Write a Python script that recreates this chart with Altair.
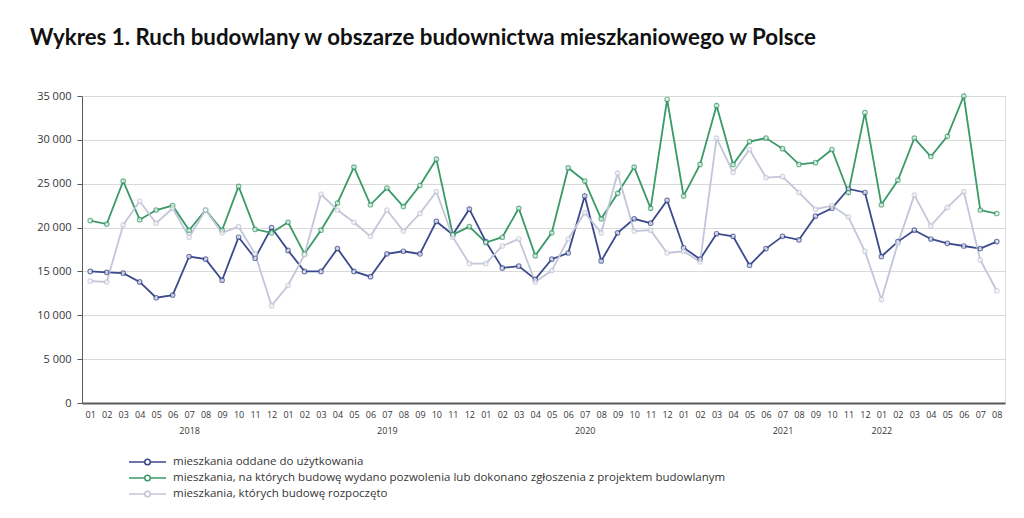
import altair as alt
import pandas as pd

# ---- data ----
months = ["01", "02", "03", "04", "05", "06", "07", "08", "09", "10", "11", "12"]
years = [2018, 2019, 2020, 2021, 2022]
# index of month where the year label is shown
year_label_pos = {6: "2018", 18: "2019", 30: "2020", 42: "2021", 48: "2022"}

series_names = [
    "mieszkania oddane do użytkowania",
    "mieszkania, na których budowę wydano pozwolenia lub dokonano zgłoszenia z projektem budowlanym",
    "mieszkania, których budowę rozpoczęto",
]
series_colors = ["#3b4a8c", "#3a9a68", "#c3c6d8"]

oddane = [
    15000, 14900, 14800, 13800, 12000, 12300, 16700, 16400, 14000, 18900, 16500, 20000,
    17400, 15000, 15000, 17600, 15000, 14400, 17000, 17300, 17000, 20700, 19200, 22100,
    18400, 15400, 15600, 14100, 16400, 17100, 23600, 16200, 19400, 21000, 20500, 23100,
    17700, 16400, 19300, 19000, 15700, 17600, 19000, 18600, 21300, 22200, 24400, 24000,
    16700, 18400, 19700, 18700, 18200, 17900, 17600, 18400,
]
pozwolenia = [
    20800, 20400, 25300, 20900, 22000, 22500, 19700, 22000, 19700, 24700, 19800, 19400,
    20600, 17000, 19700, 22800, 26900, 22600, 24500, 22400, 24800, 27800, 19200, 20100,
    18300, 18900, 22200, 16800, 19400, 26800, 25300, 21000, 23900, 26900, 22200, 34600,
    23600, 27200, 33900, 27200, 29800, 30200, 29000, 27200, 27400, 28900, 24000, 33100,
    22600, 25400, 30200, 28100, 30400, 35000, 22000, 21600,
]
rozpoczete = [
    13900, 13800, 20300, 23000, 20500, 22200, 18900, 22000, 19400, 20100, 17000, 11100,
    13400, 16900, 23800, 22000, 20600, 19000, 22000, 19600, 21600, 24100, 18900, 15900,
    15900, 17900, 18700, 13800, 15100, 18700, 21700, 19400, 26200, 19600, 19700, 17100,
    17300, 16100, 30200, 26300, 28900, 25700, 25800, 24000, 22100, 22500, 21200, 17300,
    11800, 18200, 23700, 20200, 22300, 24100, 16300, 12800,
]

n = len(oddane)
rows = []
for name, vals in zip(series_names, [oddane, pozwolenia, rozpoczete]):
    for i, v in enumerate(vals):
        rows.append({"idx": i, "seria": name, "wartosc": v})
df = pd.DataFrame(rows)

# x-axis labels: month, plus year on a second line where needed
label_items = []
for i in range(n):
    m = months[i % 12]
    if i in year_label_pos:
        label_items.append("['%s','%s']" % (m, year_label_pos[i]))
    else:
        label_items.append("['%s']" % m)
x_label_expr = "[" + ",".join(label_items) + "][datum.value]"

FONT = "Open Sans"
TXT = "#363636"

color_scale = alt.Scale(domain=series_names, range=series_colors)
legend_path = "M-1,0L-0.15,0M0.15,0L1,0M-0.15,0A0.15,0.15,0,1,1,0.15,0A0.15,0.15,0,1,1,-0.15,0Z"

x_enc = alt.X(
    "idx:Q",
    scale=alt.Scale(domain=[-0.5, n - 0.5], nice=False, zero=False),
    axis=alt.Axis(
        values=list(range(n)),
        labelExpr=x_label_expr,
        title=None,
        grid=False,
        ticks=False,
        domainColor="#5a5a5a",
        domainWidth=2,
        labelFont=FONT,
        labelFontSize=9,
        labelColor=TXT,
        labelPadding=7,
        labelLineHeight=16,
        labelAngle=0,
        labelOverlap=False,
        labelFlush=False,
        labelBound=False,
    ),
)
y_enc = alt.Y(
    "wartosc:Q",
    scale=alt.Scale(domain=[0, 35000], nice=False),
    axis=alt.Axis(
        values=[0, 5000, 10000, 15000, 20000, 25000, 30000, 35000],
        labelExpr="replace(format(datum.value, ','), ',', ' ')",
        title=None,
        grid=True,
        gridColor="#d9d9d9",
        gridWidth=1,
        domainColor="#5a5a5a",
        tickColor="#5a5a5a",
        tickSize=5,
        labelFont=FONT,
        labelFontSize=11,
        labelColor=TXT,
        labelPadding=6,
    ),
)
color_enc = alt.Color(
    "seria:N",
    scale=color_scale,
    sort=series_names,
    legend=alt.Legend(
        title=None,
        orient="none",
        legendX=46,
        legendY=358,
        direction="vertical",
        symbolType=legend_path,
        symbolSize=1369,
        symbolStrokeWidth=1.5,
        clipHeight=16,
        rowPadding=0,
        labelFont=FONT,
        labelFontSize=11.5,
        labelColor=TXT,
        labelOffset=6,
        labelLimit=800,
        padding=0,
    ),
)

base = alt.Chart(df)
lines = base.mark_line(strokeWidth=1.8).encode(
    x=x_enc, y=y_enc, color=color_enc,
    order=alt.Order("idx:Q"),
    detail="seria:N",
)
points = base.mark_point(filled=True, fill="white", size=20, strokeWidth=1.2).encode(
    x=x_enc, y=y_enc,
    stroke=alt.Stroke("seria:N", scale=color_scale, legend=None),
)

chart = (
    alt.layer(lines, points)
    .properties(
        width=923,
        height=307,
        title=alt.TitleParams(
            "Wykres 1. Ruch budowlany w obszarze budownictwa mieszkaniowego w Polsce",
            anchor="start",
            frame="group",
            font="Lato",
            fontSize=22.3,
            fontWeight="bold",
            color="#111111",
            dx=-52,
            offset=41,
        ),
        autosize=alt.AutoSizeParams(type="none"),
        padding={"left": 82, "top": 96, "right": 19, "bottom": 115},
    )
    .configure_view(stroke=None)
    .configure(background="white")
)

chart.save("out.html", embed_options={"renderer": "svg", "actions": False})
